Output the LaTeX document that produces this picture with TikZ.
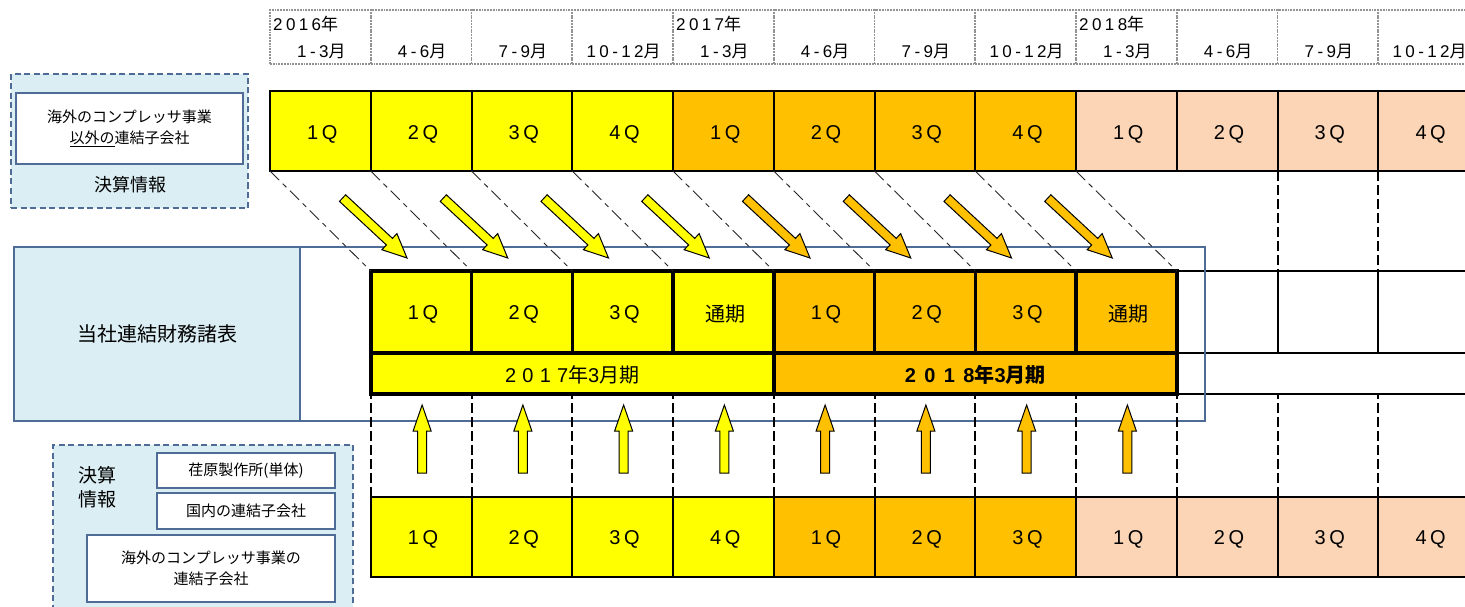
\documentclass[tikz,border=0pt]{standalone}
\usepackage{fontspec}
\setmainfont{Noto Sans CJK JP}
\newfontfamily\latf[LetterSpace=18]{Liberation Sans}
\newfontfamily\latyr[LetterSpace=31]{Liberation Sans}
\newfontfamily\latyb[LetterSpace=42]{Liberation Sans}
\newfontfamily\lathd[LetterSpace=20]{Liberation Sans}
\definecolor{yel}{RGB}{255,255,0}
\definecolor{org}{RGB}{255,192,0}
\definecolor{pch}{RGB}{251,213,181}
\definecolor{lb}{RGB}{219,238,244}
\definecolor{bl}{RGB}{79,108,150}
\newcommand{\Qf}[1]{{\fontsize{20}{24}\latf #1}}
\newcommand{\Jf}[1]{{\fontsize{20}{24}\selectfont #1}}
\newcommand{\Hd}[1]{{\fontsize{17}{20}\lathd #1}}
\newcommand{\Hj}[1]{{\fontsize{17}{20}\selectfont #1}}
\def\cw{100.75}
\begin{document}
\begin{tikzpicture}[x=1pt,y=-1pt,
  hdr/.style={draw=gray!85, line width=1.8pt, densely dotted, minimum width=\cw pt, minimum height=54pt, inner sep=0pt, outer sep=0pt, anchor=north west},
  cell/.style={draw=black, line width=2pt, minimum width=\cw pt, minimum height=80pt, inner sep=0pt, outer sep=0pt},
  mcell/.style={draw=black, line width=3.5pt, minimum width=\cw pt, minimum height=82pt, inner sep=0pt, outer sep=0pt},
  ecell/.style={draw=black, line width=2pt, minimum width=\cw pt, minimum height=82pt, inner sep=0pt, outer sep=0pt},
  ycell/.style={draw=black, line width=3.5pt, minimum width=4*\cw pt, minimum height=41pt, inner sep=0pt, outer sep=0pt},
  lab/.style={inner sep=0pt},
  dbox/.style={draw=bl, line width=1.3pt, dash pattern=on 6pt off 3.5pt, fill=lb, inner sep=0pt, outer sep=0pt, anchor=north west},
  wbox/.style={draw=bl, line width=1.3pt, fill=white, inner sep=0pt, outer sep=0pt, anchor=north west, align=center, font=\fontsize{15}{21}\selectfont},
  ddash/.style={draw=black!85, line width=0.9pt, dash pattern=on 13pt off 5pt on 5pt off 5pt},
  vdash/.style={draw=black, line width=2pt, dash pattern=on 10pt off 4pt},
  barrow/.style={draw=black, line width=1pt, line join=miter}]
\useasboundingbox (0,0) rectangle (1465,607);
\clip (0,0) rectangle (1465,607);
\fill[white] (0,0) rectangle (1465,607);

% header
\foreach \j/\mo in {0/1-3,1/4-6,2/7-9,3/10-12,4/1-3,5/4-6,6/7-9,7/10-12,8/1-3,9/4-6,10/7-9,11/10-12}{
  \node[hdr] (h\j) at ({270+\j*\cw},10) {};
  \node[lab] (hm\j) at ({271+(\j+0.5)*\cw},52) {\Hd{\mo}\Hj{月}};
}
\foreach \j/\yr in {0/2016,4/2017,8/2018}
  \node[anchor=west, inner sep=0pt] (hy\j) at ({273+\j*\cw},24) {\Hd{\yr}\Hj{年}};

% top row
\foreach \j/\cl/\tx in {0/yel/1Q,1/yel/2Q,2/yel/3Q,3/yel/4Q,4/org/1Q,5/org/2Q,6/org/3Q,7/org/4Q,8/pch/1Q,9/pch/2Q,10/pch/3Q,11/pch/4Q}{
  \node[cell, fill=\cl] (t\j) at ({270+(\j+0.5)*\cw},131) {};
  \node[lab] at ([shift={(2,3)}]t\j.center) {\Qf{\tx}};
}

% left top box
\node[dbox, minimum width=237pt, minimum height=134pt] (lbox) at (11,74) {};
\node[wbox, minimum width=227pt, minimum height=71pt] (lin) at (16,93) {海外のコンプレッサ事業\\\underline{以外の}連結子会社};
\node[font=\fontsize{18}{22}\selectfont] (llab) at (130,185) {決算情報};

% own statements
\node[draw=bl, line width=1.2pt, fill=lb, anchor=north west, minimum width=286pt, minimum height=174pt, inner sep=0pt, outer sep=0pt, font=\fontsize{20}{24}\selectfont] (own) at (14,247) {当社連結財務諸表};

% right extension cells
\foreach \j in {9,10,11}
  \node[ecell, fill=white] (e\j) at ({270+(\j+0.5)*\cw},312) {};
\node[draw=black, line width=2pt, minimum width=4*\cw pt, minimum height=41pt, inner sep=0pt, outer sep=0pt, anchor=north west] (ey) at ({270+9*\cw},353) {};

% middle rows
\foreach \j/\cl/\tx in {1/yel/\Qf{1Q},2/yel/\Qf{2Q},3/yel/\Qf{3Q},4/yel/\Jf{通期},5/org/\Qf{1Q},6/org/\Qf{2Q},7/org/\Qf{3Q},8/org/\Jf{通期}}{
  \node[mcell, fill=\cl] (m\j) at ({270+(\j+0.5)*\cw},312) {};
  \node[lab] at ([shift={(2,2)}]m\j.center) {\tx};
}
\node[ycell, fill=yel] (y1) at ({270+3*\cw},373.5) {};
\node[lab] at ([shift={(0,1)}]y1.center) {{\fontsize{20}{22}\latyr 2017}{\fontsize{20}{22}\selectfont 年}{\fontsize{20}{22}\latyr 3}{\fontsize{20}{22}\selectfont 月期}};
\node[ycell, fill=org] (y2) at ({270+7*\cw},373.5) {};
\node[lab] at ([shift={(0,1)}]y2.center) {\bfseries{\fontsize{20}{22}\latyb 2018}{\fontsize{20}{22}\selectfont 年}{\fontsize{20}{22}\latyb 3}{\fontsize{20}{22}\selectfont 月期}};

% blue frame
\node[draw=bl, line width=1.2pt, anchor=north west, minimum width=1191pt, minimum height=174pt, inner sep=0pt, outer sep=0pt] (frame) at (14,247) {};

% bottom row
\foreach \j/\cl/\tx in {1/yel/1Q,2/yel/2Q,3/yel/3Q,4/yel/4Q,5/org/1Q,6/org/2Q,7/org/3Q,8/pch/1Q,9/pch/2Q,10/pch/3Q,11/pch/4Q}{
  \node[cell, fill=\cl] (b\j) at ({270+(\j+0.5)*\cw},537) {};
  \node[lab] at ([shift={(2,2)}]b\j.center) {\Qf{\tx}};
}

% dash-dot diagonals
\foreach \j [evaluate=\j as \k using int(\j+1)] in {0,...,7}
  \draw[ddash] (t\j.south west) -- (m\k.north west);
\draw[ddash] (t8.south west) -- (m8.north east);
\draw[vdash] (t10.south west) -- (e10.north west);
\draw[vdash] (t11.south west) -- (e11.north west);

% dashed verticals below
\foreach \j in {1,...,11}
  \draw[vdash] (b\j.north west) -- (b\j.north west |- y1.south);

% diagonal block arrows
\foreach \k/\cl in {0/yel,1/yel,2/yel,3/yel,4/org,5/org,6/org,7/org}
  \filldraw[barrow, fill=\cl, shift={({407+\k*\cw},258)}, rotate=-42.9]
    (0,0) -- (-24,11) -- (-24,4.5) -- (-88,4.5) -- (-88,-4.5) -- (-24,-4.5) -- (-24,-11) -- cycle;

% up block arrows
\foreach \k/\cl in {1/yel,2/yel,3/yel,4/yel,5/org,6/org,7/org,8/org}
  \filldraw[barrow, fill=\cl, shift={({271+(\k+0.5)*\cw},405)}]
    (0,0) -- (9,26) -- (4.5,26) -- (4.5,68) -- (-4.5,68) -- (-4.5,26) -- (-9,26) -- cycle;

% bottom left box
\node[dbox, minimum width=300pt, minimum height=200pt] (bbox) at (53,445) {};
\node[align=center, font=\fontsize{19}{24}\selectfont, inner sep=0pt] (blab) at (97,487) {決算\\情報};
\node[wbox, minimum width=178pt, minimum height=35pt] (b1box) at (157,453) {荏原製作所(単体)};
\node[wbox, minimum width=178pt, minimum height=36pt] (b2box) at (157,493) {国内の連結子会社};
\node[wbox, minimum width=248pt, minimum height=67pt] (b3box) at (87,535) {海外のコンプレッサ事業の\\連結子会社};
\end{tikzpicture}
\end{document}
